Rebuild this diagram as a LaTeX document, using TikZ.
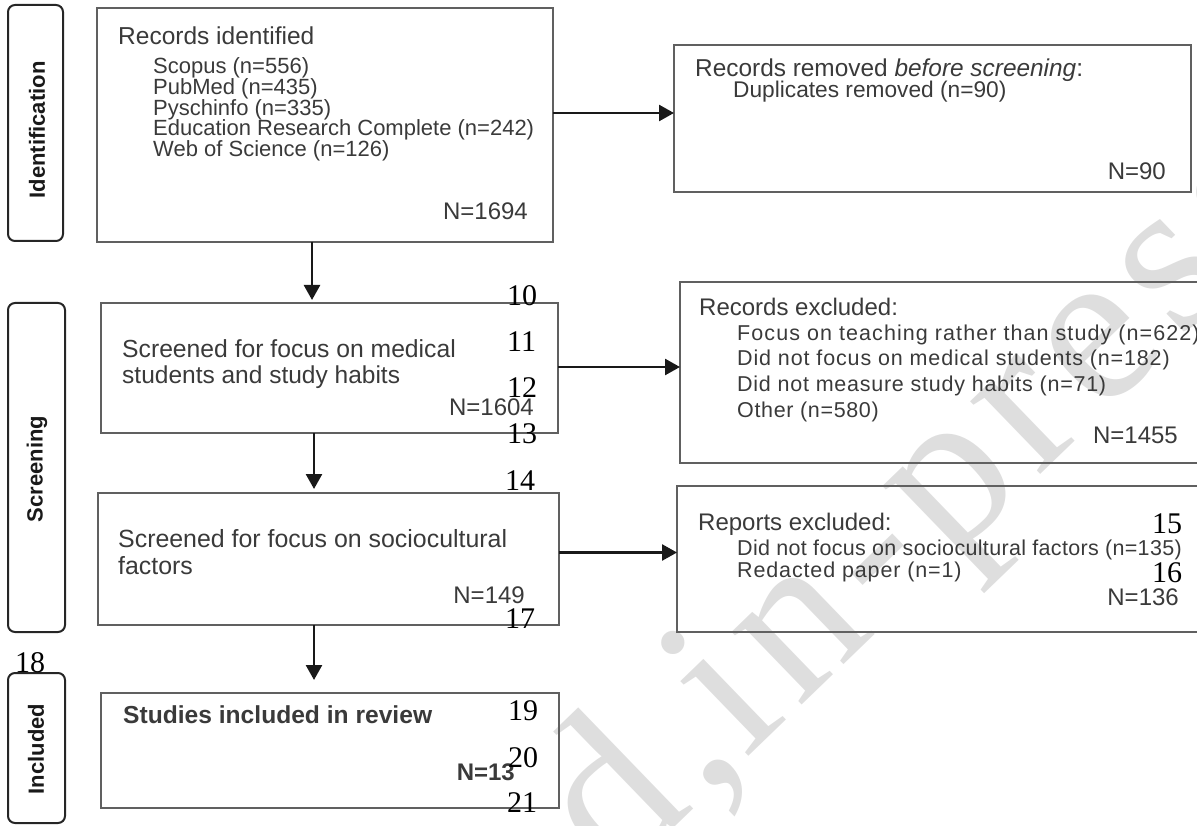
\documentclass[tikz,border=0pt]{standalone}
\usepackage{fontspec}
\setmainfont{Liberation Sans}
\newfontfamily\serifnum{Liberation Serif}
\newfontfamily\wmfont[LetterSpace=6]{Liberation Serif}
\usetikzlibrary{arrows.meta}
\definecolor{txt}{HTML}{3A3A3A}
\definecolor{brd}{HTML}{606060}
\definecolor{wmc}{HTML}{DEDEDE}
\newcommand\fsz[1]{\fontsize{#1}{#1}\selectfont}
\newcommand\lsp[1]{\addfontfeatures{LetterSpace=#1}}
\tikzset{
  box/.style={draw=brd, line width=2pt, inner sep=0pt, outer sep=0pt},
  side/.style={draw=black!85, line width=2pt, rounded corners=7pt, inner sep=0pt, outer sep=0pt},
  sidelbl/.style={rotate=90, inner sep=0pt, text=black!90, font=\bfseries\fsz{22}},
  arr/.style={-{Triangle[length=15pt,width=16pt]}, line width=2.6pt, draw=black!90, fill=black!90},
  tl/.style={anchor=base west, inner sep=0pt, text=txt},
  tr/.style={anchor=base east, inner sep=0pt, text=txt},
  lnum/.style={anchor=base west, inner sep=0pt, text=black, font=\serifnum\fsz{30}},
  wm/.style={inner sep=0pt, rotate=44, text=wmc, font=\wmfont\fsz{220}},
}
\begin{document}
\begin{tikzpicture}[x=1pt,y=-1pt]
\useasboundingbox (0,0) rectangle (1197,826);
\clip (0,0) rectangle (1197,826);
% watermark
\node[wm, anchor=base west] (wmB) at (745,760) {in-press};
\node[wm, anchor=base east] (wmA) at (wmB.base west) {Accepted,\hspace{0.3em}};

% side boxes
\node[side, minimum width=55pt, minimum height=236pt] (sideA) at (35.5,123) {};
\node[side, minimum width=57pt, minimum height=329pt] (sideB) at (36.5,467.5) {};
\node[side, minimum width=57pt, minimum height=150pt] (sideC) at (36.5,748) {};
\node[sidelbl] (lblA) at (37,130) {Identification};
\node[sidelbl] (lblB) at (37,469) {Screening};
\node[sidelbl] (lblC) at (36,749) {Included};

% main boxes
\node[box, minimum width=456pt, minimum height=234pt] (rid) at (325,125) {};
\node[box, minimum width=517pt, minimum height=147pt] (rem) at (932.5,119) {};
\node[box, minimum width=536pt, minimum height=181pt] (exc) at (948,372.5) {};
\node[box, minimum width=457pt, minimum height=130pt] (sa) at (329.5,368) {};
\node[box, minimum width=461pt, minimum height=132pt] (sb) at (328.5,559) {};
\node[box, minimum width=538pt, minimum height=146pt] (rep) at (946,559) {};
\node[box, minimum width=458pt, minimum height=115pt] (inc) at (330,750.5) {};

% connectors
\draw[arr] ([yshift=12pt]rid.east) -- ([yshift=12pt]rid.east -| rem.west);
\draw[arr] ([xshift=-13pt]rid.south) -- ([xshift=-13pt,yshift=3pt]rid.south |- sa.north);
\draw[arr] ([yshift=1pt]sa.east) -- ([yshift=1pt]sa.east -| exc.west);
\draw[arr] ([xshift=-15.5pt]sa.south) -- ([xshift=-15.5pt,yshift=4pt]sa.south |- sb.north);
\draw[arr] ([yshift=6.5pt]sb.east) -- ([yshift=6.5pt]sb.east -| rep.west);
\draw[arr] ([xshift=-14.5pt]sb.south) -- ([xshift=-14.5pt,yshift=13pt]sb.south |- inc.north);

% texts: records identified
\node[tl, font=\fsz{24.5}] (ridh) at (118,45) {Records identified};
\node[tl, font=\fsz{22}] (rid1) at (153,74) {Scopus (n=556)};
\node[tl, font=\fsz{22}] (rid2) at (153,95) {PubMed (n=435)};
\node[tl, font=\fsz{22}] (rid3) at (153,116) {Pyschinfo (n=335)};
\node[tl, font=\fsz{22}] (rid4) at (153,136) {Education Research Complete (n=242)};
\node[tl, font=\fsz{22}] (rid5) at (153,157) {Web of Science (n=126)};
\node[tr, font=\fsz{24}] (ridn) at (528,220) {N=1694};

% records removed
\node[tl, font=\fsz{24.4}] (remh) at (695,77) {Records removed \textit{before screening}:};
\node[tl, font=\fsz{22.7}] (rem1) at (733,98) {Duplicates removed (n=90)};
\node[tr, font=\fsz{24}] (remn) at (1166,180) {N=90};

% screened 1
\node[tl, font=\fsz{24.7}] (sa1) at (122,357) {Screened for focus on medical};
\node[tl, font=\fsz{24.5}] (sa2) at (122,383) {students and study habits};
\node[tr, font=\fsz{24}] (san) at (534,415) {N=1604};

% records excluded
\node[tl, font=\fsz{24}] (exch) at (699,316) {Records excluded:};
\node[tl, font=\fsz{21.5}\lsp{5}] (exc1) at (737,341) {Focus on teaching rather than study (n=622)};
\node[tl, font=\fsz{21.5}\lsp{4}] (exc2) at (737,366) {Did not focus on medical students (n=182)};
\node[tl, font=\fsz{21.5}\lsp{3.5}] (exc3) at (737,391) {Did not measure study habits (n=71)};
\node[tl, font=\fsz{21.5}\lsp{3}] (exc4) at (737,417) {Other (n=580)};
\node[tr, font=\fsz{24}] (excn) at (1178,443) {N=1455};

% screened 2
\node[tl, font=\fsz{24.9}] (sb1) at (118,547) {Screened for focus on sociocultural};
\node[tl, font=\fsz{24.9}] (sb2) at (118,574) {factors};
\node[tr, font=\fsz{24}] (sbn) at (525,603) {N=149};

% reports excluded
\node[tl, font=\fsz{24}] (reph) at (698,530) {Reports excluded:};
\node[tl, font=\fsz{21.5}\lsp{1.5}] (rep1) at (737,555) {Did not focus on sociocultural factors (n=135)};
\node[tl, font=\fsz{21.5}\lsp{4}] (rep2) at (737,577) {Redacted paper (n=1)};
\node[tr, font=\fsz{24}] (repn) at (1179,605) {N=136};

% included
\node[tl, font=\bfseries\fsz{24.6}] (inc1) at (123,723) {Studies included in review};
\node[tr, font=\bfseries\fsz{24}] (incn) at (515,780) {N=13};

% line numbers
\node[lnum] (l10) at (507,306) {10};
\node[lnum] (l11) at (507,352) {11};
\node[lnum] (l12) at (507,397) {12};
\node[lnum] (l13) at (507,443) {13};
\node[lnum] (l14) at (505,490) {14};
\node[lnum] (l15) at (1152,533) {15};
\node[lnum] (l16) at (1152,582) {16};
\node[lnum] (l17) at (505,628) {17};
\node[lnum] (l18) at (15,672) {18};
\node[lnum] (l19) at (508,720) {19};
\node[lnum] (l20) at (508,767) {20};
\node[lnum] (l21) at (507,812) {21};
\end{tikzpicture}
\end{document}
